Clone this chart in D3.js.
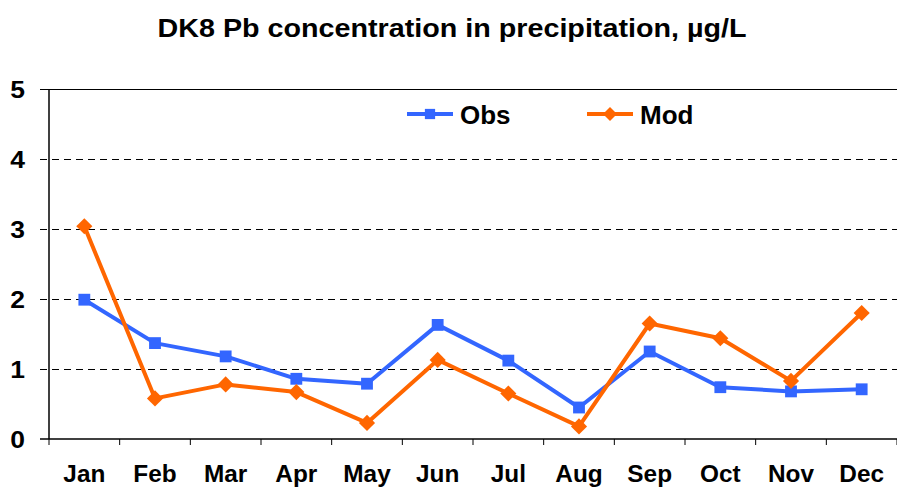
<!DOCTYPE html>
<html>
<head>
<meta charset="utf-8">
<script src="https://cdn.jsdelivr.net/npm/d3@7"></script>
<style>
  body { margin: 0; background: #fff; }
  text { font-family: "Liberation Sans", Arial, sans-serif; font-weight: bold; fill: #000; }
</style>
</head>
<body>
<svg width="897" height="490"></svg>
<script>
var months = ["Jan", "Feb", "Mar", "Apr", "May", "Jun", "Jul", "Aug", "Sep", "Oct", "Nov", "Dec"];
var obs = [1.99, 1.37, 1.18, 0.86, 0.79, 1.63, 1.12, 0.45, 1.25, 0.74, 0.68, 0.71];
var mod = [3.04, 0.58, 0.78, 0.67, 0.23, 1.13, 0.65, 0.18, 1.65, 1.44, 0.83, 1.80];
var yTicks = [0, 1, 2, 3, 4, 5];

var svg = d3.select("svg"),
    margin = {top: 89, right: 0, bottom: 51, left: 49},
    width = +svg.attr("width") - margin.left - margin.right,
    height = +svg.attr("height") - margin.top - margin.bottom;

var blue = "#3366ff", orange = "#ff6600";

var x = d3.scaleBand().domain(months).range([0, width]);
var y = d3.scaleLinear().domain([0, 5]).range([height, 0]);

// widen glyphs a little, like the original rendering
function stretch(sel, k) {
  sel.each(function() {
    var w = this.getComputedTextLength();
    d3.select(this).attr("textLength", w * k).attr("lengthAdjust", "spacingAndGlyphs");
  });
}

var g = svg.append("g").attr("transform", "translate(" + margin.left + ",0)");

// title
svg.append("text")
    .attr("x", 452).attr("y", 37)
    .attr("text-anchor", "middle")
    .style("font-size", "26px")
    .attr("textLength", 589)
    .attr("lengthAdjust", "spacingAndGlyphs")
    .text("DK8 Pb concentration in precipitation, \u00b5g/L");

// gridlines
g.selectAll(".grid")
    .data(yTicks.filter(function(d) { return d > 0; }))
  .enter().append("line")
    .attr("x1", -9).attr("x2", width)
    .attr("y1", function(d) { return Math.round(margin.top + y(d)) + 0.5; })
    .attr("y2", function(d) { return Math.round(margin.top + y(d)) + 0.5; })
    .attr("stroke", "#000")
    .attr("stroke-width", 1)
    .attr("stroke-dasharray", function(d) { return d === 5 ? null : "7,5"; });

var plot = g.append("g").attr("transform", "translate(0," + margin.top + ")");

// y axis
var yAxis = plot.append("g")
    .call(d3.axisLeft(y).tickValues(yTicks).tickSize(0).tickPadding(24).tickFormat(d3.format("d")));
yAxis.select(".domain").attr("stroke-width", 1.5).attr("d", "M0," + height + "V0");
yAxis.selectAll("text").style("font-size", "23px").attr("dy", "0.36em");
stretch(yAxis.selectAll("text"), 1.15);

// x axis
var xAxis = plot.append("g")
    .attr("transform", "translate(0," + height + ")")
    .call(d3.axisBottom(x).tickSize(0).tickPadding(27));
xAxis.select(".domain").attr("stroke-width", 1.5).attr("d", "M-9,0H" + width);
xAxis.selectAll("text").style("font-size", "23px");
stretch(xAxis.selectAll("text"), 1.06);
plot.selectAll(".xtick")
    .data(d3.range(months.length + 1))
  .enter().append("line")
    .attr("x1", function(i) { return i * x.bandwidth(); })
    .attr("x2", function(i) { return i * x.bandwidth(); })
    .attr("y1", height).attr("y2", height + 6)
    .attr("stroke", "#000");

function cx(d, i) { return x(months[i]) + x.bandwidth() / 2; }

var line = d3.line()
    .x(function(d, i) { return cx(d, i); })
    .y(function(d) { return y(d); });

var series = [
  {name: "Obs", values: obs, color: blue, shape: d3.symbolSquare, size: 140, rot: 0},
  {name: "Mod", values: mod, color: orange, shape: d3.symbolSquare, size: 130, rot: 45}
];

series.forEach(function(s) {
  plot.append("path")
      .datum(s.values)
      .attr("fill", "none")
      .attr("stroke", s.color)
      .attr("stroke-width", 4)
      .attr("stroke-linejoin", "round")
      .attr("d", line);
  plot.selectAll(".pt-" + s.name)
      .data(s.values)
    .enter().append("path")
      .attr("d", d3.symbol().type(s.shape).size(s.size))
      .attr("transform", function(d, i) { return "translate(" + cx(d, i) + "," + y(d) + ") rotate(" + s.rot + ")"; })
      .attr("fill", s.color);
});

// legend
var legendX = [407, 587];
series.forEach(function(s, i) {
  var lg = svg.append("g").attr("transform", "translate(" + legendX[i] + ",114)");
  lg.append("line").attr("x1", 0).attr("x2", 46).attr("y1", 0).attr("y2", 0)
      .attr("stroke", s.color).attr("stroke-width", 4);
  lg.append("path")
      .attr("d", d3.symbol().type(s.shape).size(s.size * 0.75))
      .attr("transform", "translate(23,0) rotate(" + s.rot + ")")
      .attr("fill", s.color);
  lg.append("text").attr("x", 53).attr("y", 10)
      .style("font-size", "26px")
      .text(s.name);
});
</script>
</body>
</html>
